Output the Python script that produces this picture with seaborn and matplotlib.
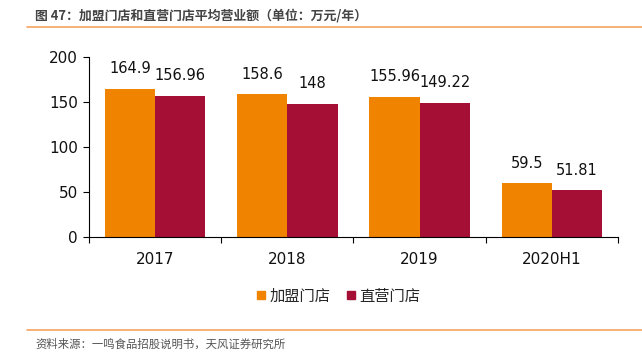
import matplotlib
matplotlib.use("Agg")
import matplotlib.pyplot as plt
import seaborn as sns
import pandas as pd
from matplotlib.lines import Line2D
from matplotlib.ticker import FixedLocator

categories = ["2017", "2018", "2019", "2020H1"]
franchise = [164.9, 158.6, 155.96, 59.5]
direct = [156.96, 148, 149.22, 51.81]
series_names = ["加盟门店", "直营门店"]
value_labels_f = ["164.9", "158.6", "155.96", "59.5"]
value_labels_d = ["156.96", "148", "149.22", "51.81"]
yticks = [0, 50, 100, 150, 200]

title = "图 47：加盟门店和直营门店平均营业额（单位：万元/年）"
source = "资料来源：一鸣食品招股说明书，天风证券研究所"

colors = ["#F08300", "#A50F35"]

sns.set_theme(style="white")
plt.rcParams['font.family'] = ['DejaVu Sans', 'Noto Sans CJK SC']
cjk = ['Noto Sans CJK SC', 'DejaVu Sans']

df = pd.DataFrame({
    "cat": categories * 2,
    "val": franchise + direct,
    "series": [series_names[0]] * 4 + [series_names[1]] * 4,
})

fig = plt.figure(figsize=(6.42, 3.64), dpi=100)
ax = fig.add_axes([0.1386, 0.349, 0.824, 0.494])

sns.barplot(data=df, x="cat", y="val", hue="series", palette=colors,
            width=0.76, ax=ax, legend=False, saturation=1, linewidth=0)

for cont, labs in zip(ax.containers, [value_labels_f, value_labels_d]):
    ax.bar_label(cont, labels=labs, padding=9, fontsize=10.5, color="#111111")

ax.set_xlim(-0.5, 3.5)
ax.set_ylim(0, 200)
ax.set_yticks(yticks)
ax.set_xlabel("")
ax.set_ylabel("")
ax.tick_params(axis="y", labelsize=11, length=4, width=0.8, color="black",
               left=True, pad=4, labelcolor="#111111")
ax.tick_params(axis="x", which="major", length=0, labelsize=11, pad=11,
               labelcolor="#111111")
ax.xaxis.set_minor_locator(FixedLocator([-0.5, 0.5, 1.5, 2.5, 3.5]))
ax.tick_params(axis="x", which="minor", length=4, width=0.8, color="black",
               bottom=True)
for s in ["top", "right"]:
    ax.spines[s].set_visible(False)
for s in ["left", "bottom"]:
    ax.spines[s].set_color("black")
    ax.spines[s].set_linewidth(0.8)

handles = [Line2D([0], [0], marker="s", color="none", markerfacecolor=c,
                  markeredgecolor=c, markersize=5.5) for c in colors]
leg = fig.legend(handles, series_names, loc="center", bbox_to_anchor=(0.527, 0.187),
                 ncol=2, frameon=False, handletextpad=0.25, handlelength=0.6,
                 columnspacing=1.0, prop={'family': cjk, 'size': 11})

fig.text(0.055, 0.958, title, fontsize=9.3, color="#444444", fontweight="bold",
         family=cjk, va="center", ha="left")
fig.add_artist(Line2D([0.042, 1.0], [0.925, 0.925], color="#F4A460", linewidth=1.2,
                      transform=fig.transFigure))
fig.add_artist(Line2D([0.042, 1.0], [0.093, 0.093], color="#F4A460", linewidth=1.2,
                      transform=fig.transFigure))
fig.text(0.055, 0.055, source, fontsize=8.2, color="#555555", family=cjk,
         va="center", ha="left")

fig.savefig("out.png", dpi=100)
